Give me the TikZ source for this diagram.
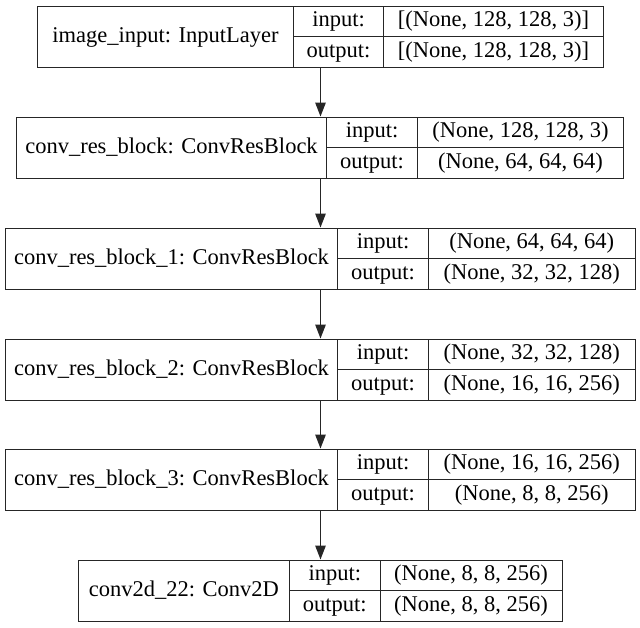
\documentclass[tikz,border=0pt]{standalone}
\usepackage{fontspec}
\setmainfont{Liberation Serif}
\usetikzlibrary{arrows.meta}
\tikzset{
  cell/.style={draw=black!85, line width=1pt, inner sep=0pt, anchor=north west,
    font=\fontsize{22.5}{26}\selectfont, text=black, text height=16pt, text depth=5pt},
  outer/.style={draw=black!85, line width=1.4pt, inner sep=0pt, anchor=north west},
  arr/.style={-{Triangle[length=14pt,width=10.5pt]}, line width=1.3pt, draw=black!85, fill=black},
}
\newcommand\kerasLayer[9]{%
  \pgfmathsetmacro\wa{#3-#2}%
  \pgfmathsetmacro\wb{#4-#3}%
  \pgfmathsetmacro\wc{#5-#4}%
  \pgfmathsetmacro\wt{#5-#2}%
  \pgfmathsetmacro\ym{#6+30.5}%
  \node[cell, minimum width=\wa pt, minimum height=61pt] (#1name) at (#2,#6) {#7};
  \node[cell, minimum width=\wb pt, minimum height=30.5pt] (#1inl) at (#3,#6) {input:};
  \node[cell, minimum width=\wb pt, minimum height=30.5pt] (#1outl) at (#3,\ym) {output:};
  \node[cell, minimum width=\wc pt, minimum height=30.5pt] (#1inv) at (#4,#6) {#8};
  \node[cell, minimum width=\wc pt, minimum height=30.5pt] (#1outv) at (#4,\ym) {#9};
  \node[outer, minimum width=\wt pt, minimum height=61pt] (#1) at (#2,#6) {};
}
\begin{document}
\begin{tikzpicture}[x=1pt, y=-1pt]
  \useasboundingbox (0,0) rectangle (640,627);
  \fill[white] (0,0) rectangle (640,627);
  \coordinate (axis) at (320.5,0);
  \kerasLayer{L1}{37}{293}{383}{603}{5.5}{image\_input: InputLayer}{[(None, 128, 128, 3)]}{[(None, 128, 128, 3)]}
  \kerasLayer{L2}{16}{326}{417}{623}{116.5}{conv\_res\_block: ConvResBlock}{(None, 128, 128, 3)}{(None, 64, 64, 64)}
  \kerasLayer{L3}{5}{337}{428}{634.5}{227.5}{conv\_res\_block\_1: ConvResBlock}{(None, 64, 64, 64)}{(None, 32, 32, 128)}
  \kerasLayer{L4}{5}{337}{428}{634.5}{338.5}{conv\_res\_block\_2: ConvResBlock}{(None, 32, 32, 128)}{(None, 16, 16, 256)}
  \kerasLayer{L5}{5}{337}{428}{634.5}{448.5}{conv\_res\_block\_3: ConvResBlock}{(None, 16, 16, 256)}{(None, 8, 8, 256)}
  \kerasLayer{L6}{77.7}{289}{379.5}{561.7}{559.5}{conv2d\_22: Conv2D}{(None, 8, 8, 256)}{(None, 8, 8, 256)}
  \draw[arr] (L1.south -| axis) -- (L2.north -| axis);
  \draw[arr] (L2.south -| axis) -- (L3.north -| axis);
  \draw[arr] (L3.south -| axis) -- (L4.north -| axis);
  \draw[arr] (L4.south -| axis) -- (L5.north -| axis);
  \draw[arr] (L5.south -| axis) -- (L6.north -| axis);
\end{tikzpicture}
\end{document}
